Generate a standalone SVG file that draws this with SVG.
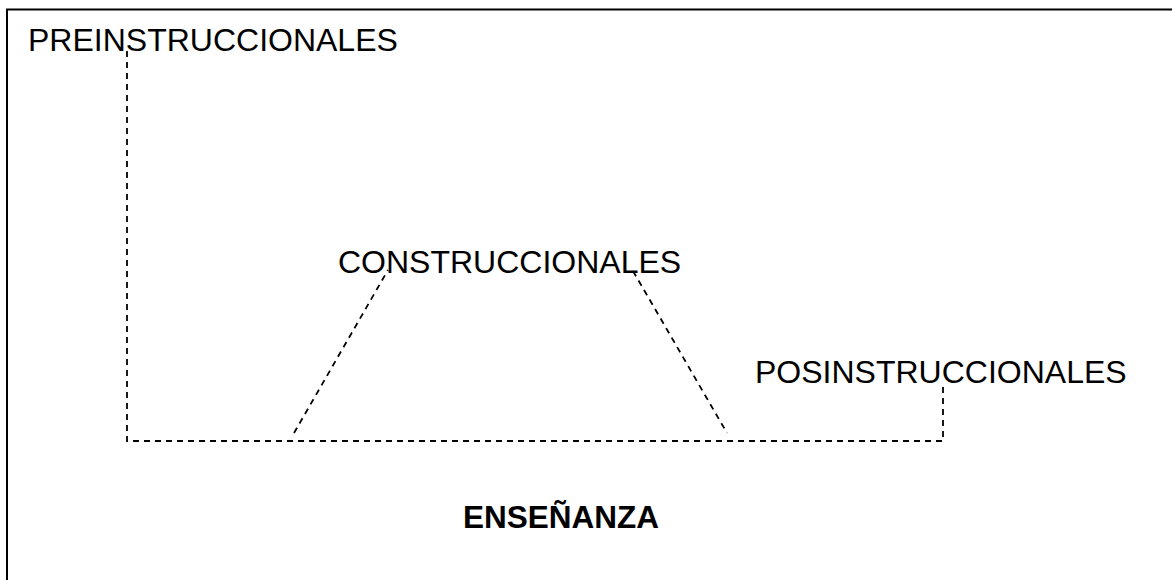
<svg xmlns="http://www.w3.org/2000/svg" width="1172" height="580" viewBox="0 0 1172 580">
<style>
.lbl{font-family:"Liberation Sans",Arial,sans-serif;font-size:32px;fill:#000}
.title{font-family:"Liberation Sans",Arial,sans-serif;font-size:31.5px;font-weight:bold;fill:#000}
.dash{fill:none;stroke:#000;stroke-width:1.8;stroke-dasharray:6 5}
</style>
<rect x="0" y="0" width="1172" height="580" fill="#fff"/>
<rect x="7" y="9.5" width="1200" height="620" fill="none" stroke="#000" stroke-width="2"/>
<g id="connectors">
<path class="dash" d="M127 51 V441 H943 V383"/>
<path class="dash" d="M294 433 L388 270"/>
<path class="dash" d="M633 271 L727 433"/>
</g>
<g id="node-pre"><text class="lbl" x="28" y="51">PREINSTRUCCIONALES</text></g>
<g id="node-cons"><text class="lbl" x="338" y="273">CONSTRUCCIONALES</text></g>
<g id="node-pos"><text class="lbl" x="755" y="383">POSINSTRUCCIONALES</text></g>
<g id="node-ens"><text class="title" x="463" y="528">ENSEÑANZA</text></g>
</svg>
